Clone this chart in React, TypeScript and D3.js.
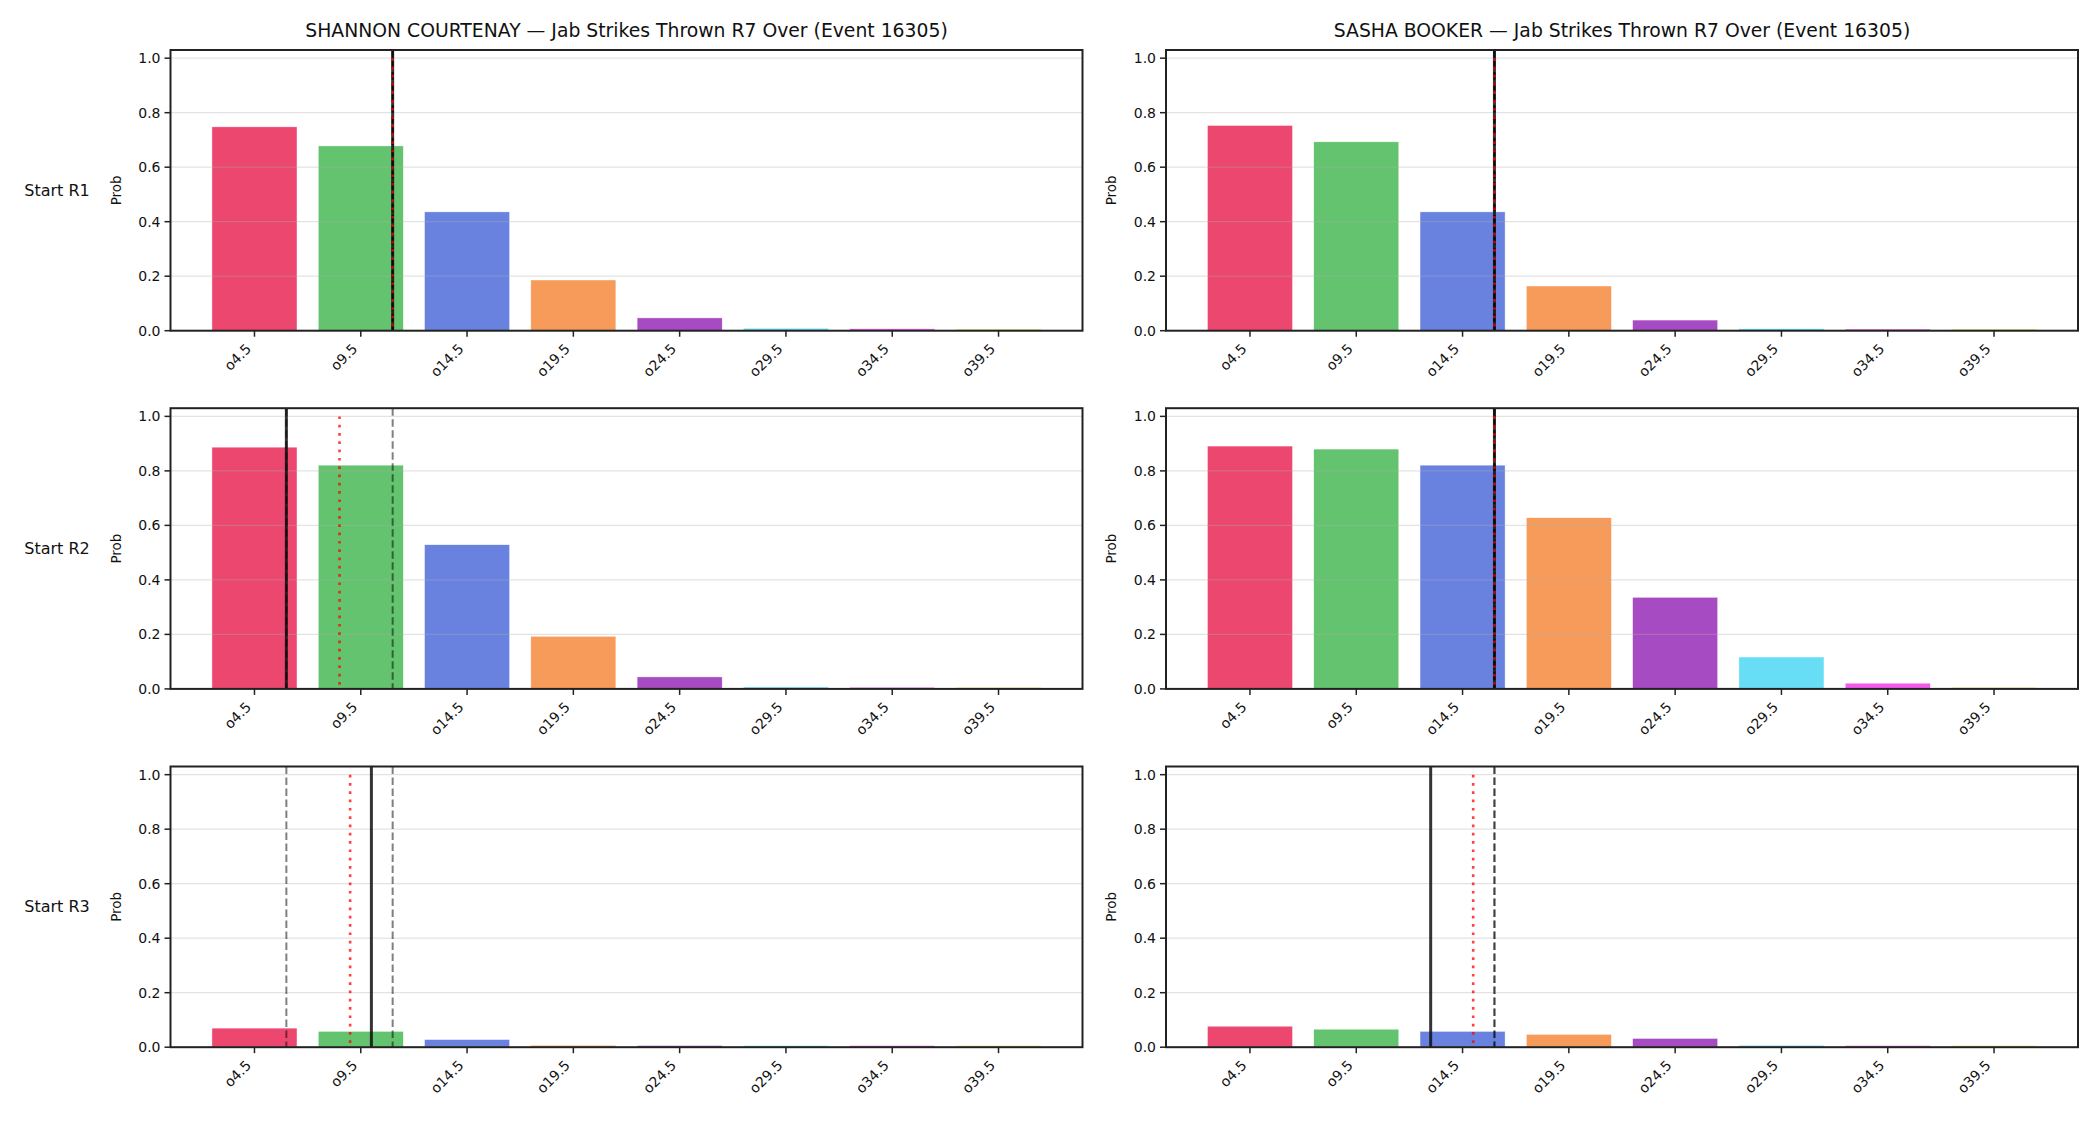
import React from 'react';
import * as d3 from 'd3';

// over/under lines for jab strikes in round 7
const categories = ['o4.5', 'o9.5', 'o14.5', 'o19.5', 'o24.5', 'o29.5', 'o34.5', 'o39.5'];
const thresholds = [4.5, 9.5, 14.5, 19.5, 24.5, 29.5, 34.5, 39.5];
const fighters = ['SHANNON COURTENAY', 'SASHA BOOKER'];
const starts = ['Start R1', 'Start R2', 'Start R3'];
const palette = ['#e6194b', '#3cb44b', '#4363d8', '#f58231', '#911eb4', '#42d4f4', '#f032e6', '#bfef45'];

// P(over) per line, one array per start round
const courtenayR1 = [0.748, 0.678, 0.436, 0.186, 0.047, 0.009, 0.007, 0.006];
const courtenayR2 = [0.887, 0.821, 0.529, 0.193, 0.044, 0.007, 0.006, 0.006];
const courtenayR3 = [0.07, 0.058, 0.028, 0.007, 0.006, 0.006, 0.006, 0.006];
const bookerR1 = [0.753, 0.693, 0.436, 0.164, 0.039, 0.007, 0.006, 0.006];
const bookerR2 = [0.891, 0.88, 0.821, 0.628, 0.336, 0.117, 0.021, 0.006];
const bookerR3 = [0.077, 0.066, 0.058, 0.047, 0.032, 0.007, 0.006, 0.006];

// reference markers, in strikes (R1, R2, R3)
const courtenayProjection = [11, 6, 10];
const courtenayMean = [11, 8.5, 9];
const courtenayLow = [11, 6, 6];
const courtenayHigh = [11, 11, 11];
const bookerProjection = [16, 16, 13];
const bookerMean = [16, 16, 15];
const bookerLow = [16, 16, 16];
const bookerHigh = [16, 16, 16];

const probs = [
  [courtenayR1, courtenayR2, courtenayR3],
  [bookerR1, bookerR2, bookerR3],
];
const markers = [
  { proj: courtenayProjection, mean: courtenayMean, lo: courtenayLow, hi: courtenayHigh },
  { proj: bookerProjection, mean: bookerMean, lo: bookerLow, hi: bookerHigh },
];

const W = 2100;
const H = 1125;
const FONT = 'DejaVu Sans, sans-serif';
const colLeft = [170.5, 1166];
const rowTop = [50, 408.2, 766.5];
const axW = 912;
const axH = 280.7;
const barW = 4; // 0.8 of the 5-strike spacing

const yTicks = [0, 0.2, 0.4, 0.6, 0.8, 1.0];

function Panel({ left, top, values, mk, row, showTitle, fighter, showStart }) {
  const lo = d3.min(thresholds) - barW / 2;
  const hi = d3.max(thresholds) + barW / 2;
  const pad = (hi - lo) * 0.05;
  const x = d3.scaleLinear().domain([lo - pad, hi + pad]).range([left, left + axW]);
  const y = d3.scaleLinear().domain([0, 1.03]).range([top + axH, top]);
  const bottom = top + axH;

  return (
    <g>
      {showTitle && (
        <text x={left + axW / 2} y={36.7} textAnchor="middle" fontSize={18.8} fill="#111">
          {fighter} — Jab Strikes Thrown R7 Over (Event 16305)
        </text>
      )}
      {showStart && (
        <text x={57} y={top + axH / 2} textAnchor="middle" dominantBaseline="central" fontSize={16} fill="#111">
          {starts[row]}
        </text>
      )}
      <text
        transform={`translate(${left - 55},${top + axH / 2}) rotate(-90)`}
        textAnchor="middle"
        dominantBaseline="central"
        fontSize={13.5}
        fill="#111"
      >
        Prob
      </text>

      {values.map((v, i) => (
        <rect
          key={i}
          x={x(thresholds[i] - barW / 2)}
          y={y(v)}
          width={x(thresholds[i] + barW / 2) - x(thresholds[i] - barW / 2)}
          height={bottom - y(v)}
          fill={palette[i]}
          fillOpacity={0.8}
          stroke="#fff"
          strokeOpacity={0.8}
          strokeWidth={0.5}
        />
      ))}

      {yTicks.map((t) => (
        <line key={t} x1={left} x2={left + axW} y1={y(t)} y2={y(t)} stroke="#b0b0b0" strokeOpacity={0.35} strokeWidth={1.2} />
      ))}

      <line x1={x(mk.proj[row])} x2={x(mk.proj[row])} y1={top} y2={bottom} stroke="#111" strokeOpacity={0.85} strokeWidth={3} />
      {[mk.lo[row], mk.hi[row]].map((v, i) => (
        <line key={i} x1={x(v)} x2={x(v)} y1={top} y2={bottom} stroke="#000" strokeOpacity={0.5} strokeWidth={2} strokeDasharray="7.5,3.5" />
      ))}
      <line x1={x(mk.mean[row])} x2={x(mk.mean[row])} y1={y(1)} y2={bottom} stroke="red" strokeOpacity={0.75} strokeWidth={2.6} strokeDasharray="2.7,5.6" />

      <rect x={left} y={top} width={axW} height={axH} fill="none" stroke="#222" strokeWidth={2} />

      {yTicks.map((t) => (
        <g key={t}>
          <line x1={left - 6} x2={left} y1={y(t)} y2={y(t)} stroke="#222" strokeWidth={1.5} />
          <text x={left - 10} y={y(t)} textAnchor="end" dominantBaseline="central" fontSize={14} fill="#111">
            {d3.format('.1f')(t)}
          </text>
        </g>
      ))}
      {categories.map((c, i) => (
        <g key={c}>
          <line x1={x(thresholds[i])} x2={x(thresholds[i])} y1={bottom} y2={bottom + 6} stroke="#222" strokeWidth={1.5} />
          <text
            transform={`translate(${x(thresholds[i]) - 2.5},${bottom + 19}) rotate(-45)`}
            textAnchor="end"
            fontSize={14}
            fill="#111"
          >
            {c}
          </text>
        </g>
      ))}
    </g>
  );
}

export default function App() {
  return (
    <svg width={W} height={H} style={{ position: 'absolute', left: 0, top: 0, background: '#fff' }} fontFamily={FONT}>
      <rect width={W} height={H} fill="#fff" />
      {fighters.map((f, c) =>
        starts.map((s, r) => (
          <Panel
            key={`${c}-${r}`}
            left={colLeft[c]}
            top={rowTop[r]}
            values={probs[c][r]}
            mk={markers[c]}
            row={r}
            showTitle={r === 0}
            fighter={f}
            showStart={c === 0}
          />
        ))
      )}
    </svg>
  );
}
